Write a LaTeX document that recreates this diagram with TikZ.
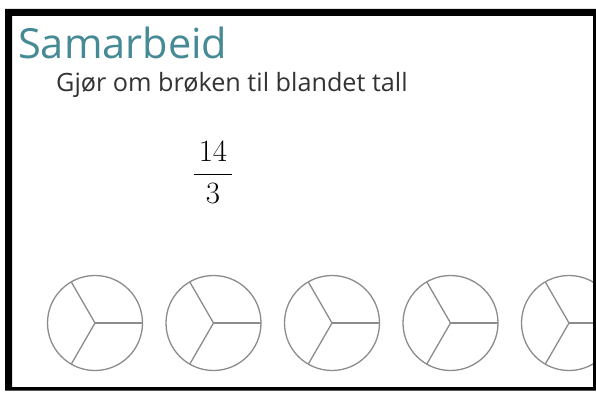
\RequirePackage{fix-cm}
\documentclass[tikz,border=0pt]{standalone}
\usepackage{fontspec}
\setsansfont{Open Sans}
\usepackage{amsmath}
\usetikzlibrary{positioning}
\definecolor{sjo}{HTML}{468A96}
\definecolor{skrift}{HTML}{333333}
\definecolor{strek}{HTML}{8C8C8C}

\begin{document}
\begin{tikzpicture}[x=1pt, y=-1pt,
    tittel/.style={anchor=base west, inner sep=0pt, text=sjo, font=\sffamily\fontsize{41.5}{44}\selectfont},
    oppgave/.style={anchor=base west, inner sep=0pt, text=skrift, font=\sffamily\fontsize{25.2}{27}\selectfont},
    sektor/.style={strek, line width=1.3pt}]
        \useasboundingbox (0,0) rectangle (596,396);
        \fill[white] (0,0) rectangle (596,396);
        % Tekst
        \node[tittel] (tittel) at (18,59) {Samarbeid};
        \node[oppgave] (oppgave) at (56,91) {Gjør om brøken til blandet tall};
        \node[inner sep=0pt, font=\fontsize{31}{36}\selectfont] (brok) at (213,172.5)
          {$\dfrac{\,14\,}{3}$};
        % Sirkler delt i tredjedeler
        \begin{scope}
          \clip (12,16) rectangle (593,387);
          \foreach \cx [count=\i] in {95,213.5,332,450.5,569} {
            \coordinate (s\i) at (\cx,323);
            \draw[sektor] (s\i) circle[radius=47.5];
            \draw[sektor] (s\i) -- ++(0:47.5);
            \draw[sektor] (s\i) -- ++(47.5*cos 120, -47.5*sin 120);
            \draw[sektor] (s\i) -- ++(47.5*cos 240, -47.5*sin 240);
          }
        \end{scope}
        % Ramme
        \fill[black, even odd rule] (5,9) rectangle (596,390.5) (12,16) rectangle (593,387);
      \end{tikzpicture}
\end{document}
